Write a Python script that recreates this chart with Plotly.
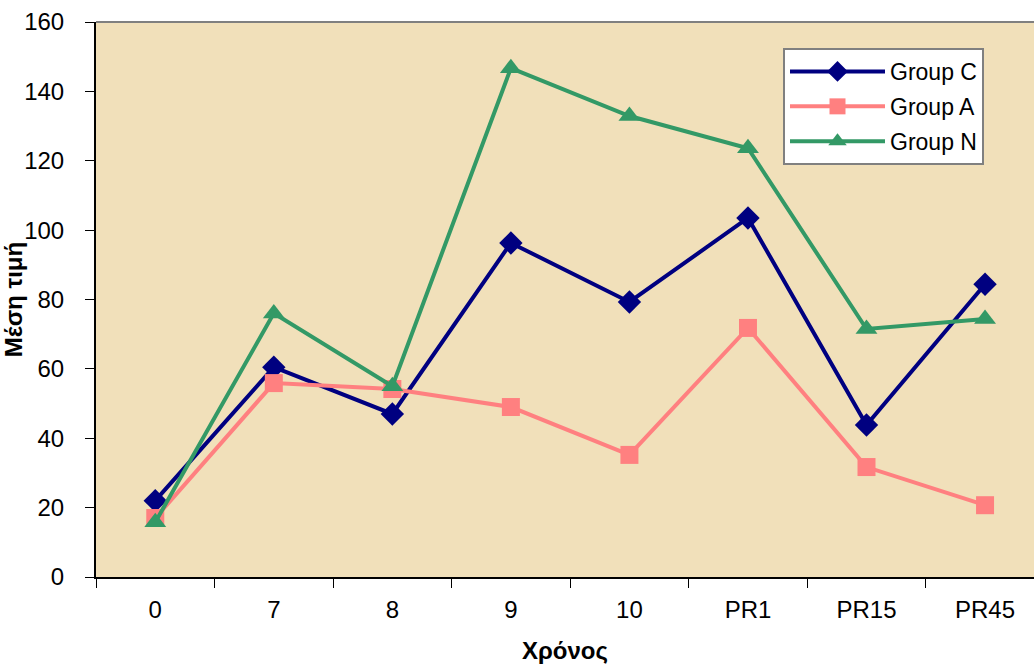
import plotly.graph_objects as go

# Measurement time points
times = ["0", "7", "8", "9", "10", "PR1", "PR15", "PR45"]

# Mean values per group
group_c = [22, 60.5, 47, 96.3, 79.3, 103.5, 43.8, 84.4]
group_a = [17, 55.9, 54.2, 49, 35.2, 71.8, 31.7, 20.7]
group_n = [15.8, 76, 55, 146.7, 132.9, 123.6, 71.5, 74.4]

FONT = "Liberation Sans, Arial, sans-serif"

fig = go.Figure()
fig.add_trace(go.Scatter(
    x=times, y=group_c, name="Group C", mode="lines+markers", legendgroup="c",
    line=dict(color="#000080", width=4),
    marker=dict(symbol="diamond", size=18, color="#000080"),
))
fig.add_trace(go.Scatter(
    x=times, y=group_a, name="Group A", mode="lines+markers", legendgroup="a",
    line=dict(color="#FF8080", width=4),
    marker=dict(symbol="square", size=18, color="#FF8080"),
))
fig.add_trace(go.Scatter(
    x=times, y=group_n, name="Group N", mode="lines+markers", legendgroup="n",
    line=dict(color="#339966", width=4),
    marker=dict(symbol="triangle-up", size=19, color="#339966"),
))

# thin grey frame line along the top of the plotting area
fig.add_shape(type="line", xref="paper", yref="paper", x0=0, x1=1, y0=1, y1=1,
              line=dict(color="#808080", width=2))

fig.update_layout(
    width=1034, height=666,
    margin=dict(l=96, r=0, t=22, b=89),
    paper_bgcolor="white",
    plot_bgcolor="#F1E0BA",
    font=dict(family=FONT, size=24, color="black"),
    showlegend=True,
    legend=dict(
        x=(783 - 96) / 938, y=1 - (48 - 22) / 555,
        xanchor="left", yanchor="top",
        bgcolor="white", bordercolor="#808080", borderwidth=2,
        font=dict(family=FONT, size=23, color="black"),
        itemwidth=95, tracegroupgap=2,
    ),
    xaxis=dict(
        type="category", range=[-0.5, 7.413],
        tickson="boundaries", ticks="outside", ticklen=9, tickcolor="black",
        showline=True, linecolor="black", linewidth=2,
        showgrid=False, zeroline=False,
        title=dict(text="<b>Χρόνος</b>", font=dict(size=24), standoff=20),
        tickfont=dict(size=24), ticklabelstandoff=10,
    ),
    yaxis=dict(
        range=[0, 160], dtick=20, ticks="outside", ticklen=9, tickcolor="black",
        showline=True, linecolor="black", linewidth=2,
        showgrid=False, zeroline=False, automargin=True,
        title=dict(text="<b>Μέση τιμή</b>", font=dict(size=24), standoff=2),
        tickfont=dict(size=24), ticklabelstandoff=16,
    ),
)

fig.write_html("out.html")
